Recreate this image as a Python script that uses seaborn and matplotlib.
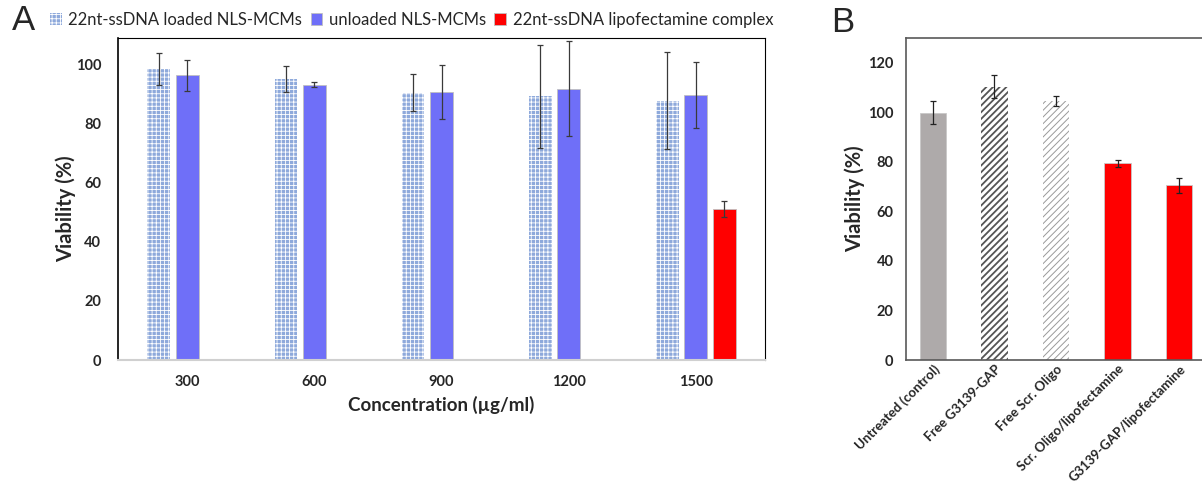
import matplotlib
matplotlib.use("Agg")
import matplotlib.pyplot as plt
import seaborn as sns
import pandas as pd

# ---------------- data ----------------
concentrations = ["300", "600", "900", "1200", "1500"]
series_names = ["22nt-ssDNA loaded NLS-MCMs", "unloaded NLS-MCMs",
                "22nt-ssDNA lipofectamine complex"]
loaded_vals = [98.5, 95.1, 90.5, 89.3, 87.8]
loaded_err = [5.3, 4.3, 6.3, 17.4, 16.3]
unloaded_vals = [96.4, 93.2, 90.7, 91.8, 89.7]
unloaded_err = [5.3, 0.9, 9.0, 16.1, 11.1]
lipo_conc = ["1500"]
lipo_vals = [51.1]
lipo_err = [2.8]

treatments = ["Untreated (control)", "Free G3139-GAP", "Free Scr. Oligo",
              "Scr. Oligo/lipofectamine", "G3139-GAP/lipofectamine"]
treat_vals = [99.8, 110.4, 104.6, 79.5, 70.5]
treat_err = [4.6, 4.6, 2.1, 1.4, 3.1]

# ---------------- style ----------------
sns.set_theme(style="white")
plt.rcParams["font.family"] = ["Lato", "DejaVu Sans"]
plt.rcParams["hatch.linewidth"] = 0.6

rows = []
for c, v, e in zip(concentrations, loaded_vals, loaded_err):
    rows.append((c, series_names[0], v, e))
for c, v, e in zip(concentrations, unloaded_vals, unloaded_err):
    rows.append((c, series_names[1], v, e))
for c, v, e in zip(lipo_conc, lipo_vals, lipo_err):
    rows.append((c, series_names[2], v, e))
df_a = pd.DataFrame(rows, columns=["conc", "series", "viability", "err"])

df_b = pd.DataFrame({"treatment": treatments, "viability": treat_vals, "err": treat_err})

W, H = 1202, 486
fig = plt.figure(figsize=(W / 100, H / 100), dpi=100)
axA = fig.add_axes([118 / W, 1 - 360 / H, (765 - 118) / W, (360 - 38) / H])
axB = fig.add_axes([906 / W, 1 - 360 / H, 300 / W, (360 - 38) / H])

# ---------------- panel A ----------------
pal_a = {series_names[0]: "#8EA9DB", series_names[1]: "#6F6FF8",
         series_names[2]: "#FF0000"}
sns.barplot(data=df_a, x="conc", y="viability", hue="series",
            order=concentrations, hue_order=series_names, palette=pal_a,
            width=0.672, gap=0.2, errorbar=None, saturation=1,
            edgecolor="#C0C0C0", linewidth=0.6, legend=False, ax=axA)

err_lookup = {(r.series, r.conc): r.err for r in df_a.itertuples()}
handles = []
for cont, name in zip(axA.containers, series_names):
    xs, ys, es = [], [], []
    for bar in cont:
        h = bar.get_height()
        if h != h:
            continue
        xc = bar.get_x() + bar.get_width() / 2
        cat = concentrations[int(round(xc))]
        xs.append(xc)
        ys.append(h)
        es.append(err_lookup[(name, cat)])
        if name == series_names[0]:
            bar.set_hatch("++++")
            bar.set_edgecolor("white")
            bar.set_linewidth(0)
            if hasattr(bar, "set_hatch_linewidth"):
                bar.set_hatch_linewidth(0.6)
    axA.errorbar(xs, ys, yerr=es, fmt="none", ecolor="#3A3A3A",
                 elinewidth=0.9, capsize=2.5, capthick=0.9, zorder=5)
    handles.append(cont[len(cont) - 1] if len(cont) else None)

axA.set_ylim(0, 109)
axA.set_yticks(range(0, 101, 20))
axA.set_xlabel("Concentration (µg/ml)", fontsize=13.5, fontweight="bold", labelpad=5)
axA.set_ylabel("Viability (%)", fontsize=14.5, fontweight="bold")
axA.yaxis.set_label_coords(-0.064, 0.47)
axA.tick_params(axis="both", length=0, labelsize=10.5)
axA.tick_params(axis="y", pad=12)
axA.tick_params(axis="x", pad=11)
for lab in axA.get_xticklabels() + axA.get_yticklabels():
    lab.set_fontweight("bold")
for side in ["top", "right"]:
    axA.spines[side].set_color("black")
    axA.spines[side].set_linewidth(0.8)
axA.spines["left"].set_color("black")
axA.spines["left"].set_linewidth(1.2)
axA.spines["bottom"].set_color("#D0D0D0")
axA.spines["bottom"].set_linewidth(1.5)

fig.legend(handles=handles, labels=series_names, loc="center left",
           bbox_to_anchor=(50 / W, 1 - 20 / H), ncol=3, frameon=False,
           handlelength=0.7, handleheight=0.7, handletextpad=0.4,
           columnspacing=0.5, borderpad=0, borderaxespad=0, fontsize=12)

# ---------------- panel B ----------------
pal_b = ["#AEAAAA", "white", "white", "#FF0000", "#FF0000"]
sns.barplot(data=df_b, x="treatment", y="viability", hue="treatment",
            order=treatments, hue_order=treatments, palette=pal_b,
            width=0.43, errorbar=None, saturation=1, legend=False,
            edgecolor="#C8C8C8", linewidth=0.6, ax=axB)
bars_b = [c[i] for c in axB.containers for i in range(len(c)) if c[i].get_height() == c[i].get_height()]
bars_b.sort(key=lambda b: b.get_x())
hatch_spec = {1: ("#555555", 1.3), 2: ("#9A9A9A", 0.7)}
for i, bar in enumerate(bars_b):
    if i in hatch_spec:
        col, lw = hatch_spec[i]
        bar.set_hatch("/////")
        bar.set_edgecolor(col)
        bar.set_linewidth(0)
        if hasattr(bar, "set_hatch_linewidth"):
            bar.set_hatch_linewidth(lw)
xb = [b.get_x() + b.get_width() / 2 for b in bars_b]
yb = [b.get_height() for b in bars_b]
eb = [df_b.set_index("treatment").loc[treatments[int(round(x))], "err"] for x in xb]
axB.errorbar(xb, yb, yerr=eb, fmt="none", ecolor="#222222",
             elinewidth=0.9, capsize=2.5, capthick=0.9, zorder=5)

axB.set_ylim(0, 130)
axB.set_yticks(range(0, 121, 20))
axB.set_xlabel("")
axB.set_ylabel("Viability (%)", fontsize=14.5, fontweight="bold", labelpad=2)
axB.tick_params(axis="y", length=0, labelsize=10.5, pad=9)
axB.tick_params(axis="x", length=0, labelsize=9.5, pad=2)
for lab in axB.get_yticklabels():
    lab.set_fontweight("bold")
for lab in axB.get_xticklabels():
    lab.set_fontweight("bold")
    lab.set_rotation(45)
    lab.set_ha("right")
    lab.set_va("top")
    lab.set_rotation_mode("anchor")
for sp in axB.spines.values():
    sp.set_color("#595959")
    sp.set_linewidth(1.2)

fig.text(12 / W, 1 - 21 / H, "A", fontsize=25, family="Liberation Sans", va="center", ha="left")
fig.text(831 / W, 1 - 22 / H, "B", fontsize=25, family="Liberation Sans", va="center", ha="left")

fig.savefig("out.png", dpi=100)
